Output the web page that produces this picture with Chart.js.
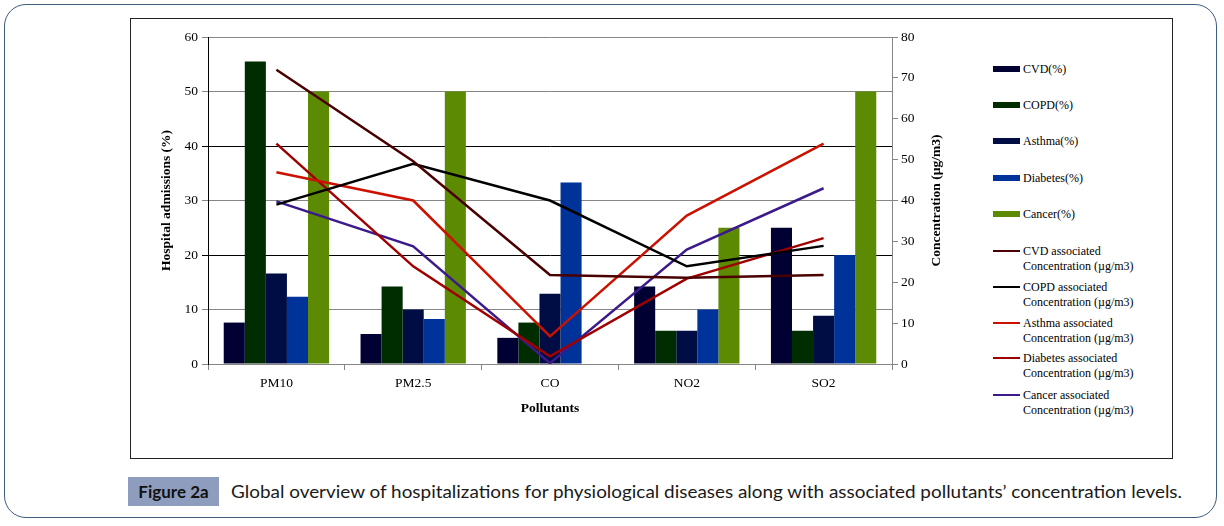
<!DOCTYPE html>
<html>
<head>
<meta charset="utf-8">
<script src="https://cdn.jsdelivr.net/npm/chart.js@4.4.1/dist/chart.umd.min.js"></script>
<style>
  html, body { margin:0; padding:0; background:#fff; }
  body { width:1224px; height:526px; position:relative; overflow:hidden; }
  #outer { position:absolute; left:4px; top:4px; width:1213px; height:514px; border:1.5px solid #3f5c7c; border-radius:22px; box-sizing:border-box; }
  #box { position:absolute; left:130px; top:18px; width:1043px; height:441px; border:1px solid #222; box-sizing:border-box; }
  #chartWrap { position:absolute; left:130px; top:18px; width:830px; height:440px; }
  #legend { position:absolute; left:993px; top:0; font-family:"Liberation Serif", "Times New Roman", serif; font-size:12px; color:#000; }
  .li { position:absolute; left:0; white-space:nowrap; }
  .sw { position:absolute; left:0; width:27px; }
  .lt { position:absolute; left:30px; line-height:14.5px; }
  #figLabel { position:absolute; left:128px; top:477px; width:91px; height:29px; background:#8e9dbe; color:#111; font-family:Lato, "Open Sans", sans-serif; font-weight:bold; font-size:17px; line-height:29px; text-align:center; }
  #caption { position:absolute; left:231px; top:477px; height:29px; line-height:29px; color:#1a1a1a; font-family:Lato, "Open Sans", sans-serif; font-size:17.5px; white-space:nowrap; transform-origin:0 50%; }
</style>
</head>
<body>
<div id="outer"></div>
<div id="box"></div>
<div id="chartWrap"><canvas id="c" width="830" height="440"></canvas></div>
<div id="legend"></div>
<div id="figLabel">Figure 2a</div>
<div id="caption">Global overview of hospitalizations for physiological diseases along with associated pollutants’ concentration levels.</div>
<script>
// ---- data ----
const categories = ['PM10', 'PM2.5', 'CO', 'NO2', 'SO2'];
const cvdPct      = [7.6, 5.5, 4.8, 14.2, 25];
const copdPct     = [55.5, 14.2, 7.6, 6.1, 6.1];
const asthmaPct   = [16.6, 10.0, 12.9, 6.1, 8.85];
const diabetesPct = [12.35, 8.25, 33.3, 10.0, 20];
const cancerPct   = [50, 50, null, 25, 50];

const cvdConc      = [72, 49.6, 21.8, 21.1, 21.8];
const copdConc     = [39.0, 49.0, 40.0, 23.9, 28.9];
const asthmaConc   = [46.9, 40.0, 6.75, 36.3, 53.9];
const diabetesConc = [53.9, 23.9, 1.9, 20.9, 30.8];
const cancerConc   = [39.8, 28.8, 0.2, 28.0, 43.0];

const leftTicks  = [0, 10, 20, 30, 40, 50, 60];
const rightTicks = [0, 10, 20, 30, 40, 50, 60, 70, 80];

const barNames  = ['CVD(%)', 'COPD(%)', 'Asthma(%)', 'Diabetes(%)', 'Cancer(%)'];
const lineNames = ['CVD associated Concentration (µg/m3)', 'COPD associated Concentration (µg/m3)',
                   'Asthma associated Concentration (µg/m3)', 'Diabetes associated Concentration (µg/m3)',
                   'Cancer associated Concentration (µg/m3)'];
const barColors  = ['#000033', '#002d00', '#000c44', '#003399', '#5c8a03'];
const lineColors = ['#4a0000', '#000000', '#cc1100', '#a00000', '#3c1a8c'];

const barData  = [cvdPct, copdPct, asthmaPct, diabetesPct, cancerPct];
const lineData = [cvdConc, copdConc, asthmaConc, diabetesConc, cancerConc];

const serif = '"Liberation Serif", "Times New Roman", serif';

const datasets = [];
barData.forEach((d, i) => datasets.push({
  type: 'bar', label: barNames[i], data: d, backgroundColor: barColors[i],
  yAxisID: 'y', order: 2, categoryPercentage: 0.77, barPercentage: 1.0, borderWidth: 0
}));
lineData.forEach((d, i) => datasets.push({
  type: 'line', label: lineNames[i], data: d, borderColor: lineColors[i], backgroundColor: lineColors[i],
  yAxisID: 'y2', order: 1, borderWidth: 2.5, pointRadius: 0, tension: 0, fill: false
}));

const rightTitle = {
  id: 'rightTitle',
  afterDraw(chart) {
    const ctx = chart.ctx;
    const area = chart.chartArea;
    ctx.save();
    ctx.translate(937 - 130, (area.top + area.bottom) / 2);
    ctx.rotate(-Math.PI / 2);
    ctx.font = 'bold 13.5px ' + serif;
    ctx.fillStyle = '#000';
    ctx.textAlign = 'center';
    ctx.textBaseline = 'middle';
    ctx.fillText('Concentration (µg/m3)', 0, 0);
    ctx.restore();
  }
};

new Chart(document.getElementById('c'), {
  data: { labels: categories, datasets },
  options: {
    responsive: false,
    animation: false,
    layout: { padding: { left: 28, right: 16, top: 19, bottom: 41 } },
    plugins: { legend: { display: false }, tooltip: { enabled: false } },
    scales: {
      x: {
        offset: true,
        grid: { offset: true, drawOnChartArea: false, tickLength: 6, color: '#868686' },
        border: { color: '#868686' },
        ticks: { color: '#000', font: { family: serif, size: 13.5 }, padding: 5 },
        title: { display: true, text: 'Pollutants', color: '#000', font: { family: serif, size: 13.5, weight: 'bold' }, padding: { top: 2, bottom: 0 } },
        afterFit: s => { s.height = 53; }
      },
      y: {
        position: 'left', min: 0, max: 60,
        afterBuildTicks: s => { s.ticks = leftTicks.map(v => ({ value: v })); },
        grid: { color: ctx => (ctx.tick && (ctx.tick.value === 20 || ctx.tick.value === 40)) ? '#000' : '#868686', tickLength: 6, lineWidth: 1 },
        border: { color: '#000' },
        ticks: { color: '#000', font: { family: serif, size: 13.5 }, padding: 4 },
        title: { display: true, text: 'Hospital admissions (%)', color: '#000', font: { family: serif, size: 13.5, weight: 'bold' }, padding: 0 },
        afterFit: s => { s.width = 50; }
      },
      y2: {
        position: 'right', min: 0, max: 80,
        afterBuildTicks: s => { s.ticks = rightTicks.map(v => ({ value: v })); },
        grid: { drawOnChartArea: false, tickLength: 6, color: '#868686' },
        border: { color: '#868686' },
        ticks: { color: '#000', font: { family: serif, size: 13.5 }, padding: 3 },
        afterFit: s => { s.width = 52; }
      }
    }
  },
  plugins: [rightTitle]
});

// ---- legend (HTML) ----
const legend = document.getElementById('legend');
const barTops = [69, 105, 141, 178, 214];
barNames.forEach((n, i) => {
  const el = document.createElement('div');
  el.className = 'li';
  el.style.top = (barTops[i] - 7) + 'px';
  el.innerHTML = '<div class="sw" style="top:4px;height:6px;background:' + barColors[i] + '"></div><div class="lt" style="top:0">' + n + '</div>';
  legend.appendChild(el);
});
const lineTops = [251, 287, 323, 358, 395];
lineNames.forEach((n, i) => {
  const parts = n.split(' associated ');
  const el = document.createElement('div');
  el.className = 'li';
  el.style.top = (lineTops[i] - 7) + 'px';
  el.innerHTML = '<div class="sw" style="top:6px;height:2px;background:' + lineColors[i] + '"></div><div class="lt" style="top:0">' + parts[0] + ' associated<br>' + parts[1] + '</div>';
  legend.appendChild(el);
});

// fit caption width to reference span
const cap = document.getElementById('caption');
const target = 1182 - 231;
const w = cap.getBoundingClientRect().width;
cap.style.transform = 'scaleX(' + (target / w) + ')';
</script>
</body>
</html>
